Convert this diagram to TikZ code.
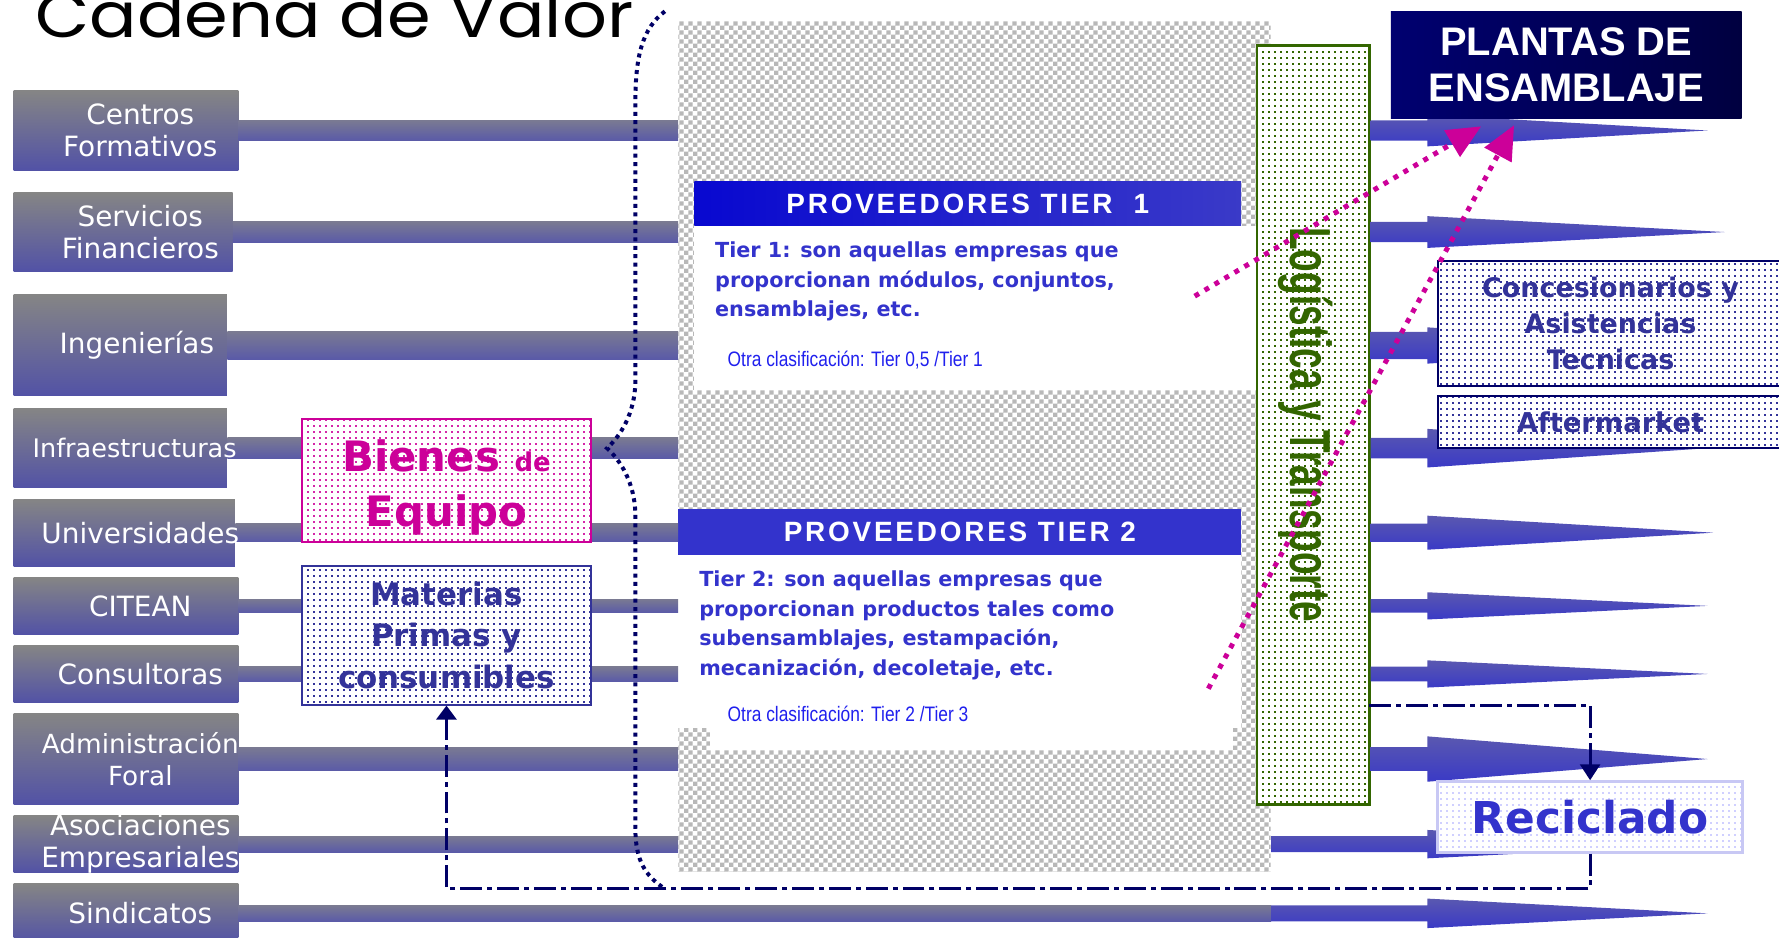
\documentclass[tikz,border=0pt]{standalone}
\usepackage{fontspec}
\usetikzlibrary{calc}
\usetikzlibrary{patterns}
\usetikzlibrary{arrows.meta}

\newfontfamily\fntdv{DejaVu Sans}
\newfontfamily\fntlib{Liberation Sans}
\newfontfamily\fntwide[LetterSpace=10]{Liberation Sans}
\newfontfamily\fntnarrow[FakeStretch=0.83]{Liberation Sans}
\newfontfamily\fntlogi[FakeStretch=0.64]{Liberation Sans}
\newfontfamily\fnttitle[FakeStretch=1.12]{Poppins}

\definecolor{boxtop}{HTML}{858585}
\definecolor{boxbot}{HTML}{5252A6}
\definecolor{bartop}{HTML}{7A7A92}
\definecolor{barbot}{HTML}{5A5AA8}
\definecolor{arrtop}{HTML}{5A58B0}
\definecolor{arrbot}{HTML}{3A3AC6}
\definecolor{tierblue}{HTML}{3333CC}
\definecolor{otrablue}{HTML}{2020EE}
\definecolor{navyc}{HTML}{000066}
\definecolor{magent}{HTML}{CC0099}
\definecolor{logigreen}{HTML}{336600}
\definecolor{peleft}{HTML}{000070}
\definecolor{peright}{HTML}{000040}
\definecolor{tleft}{HTML}{0808D0}
\definecolor{tright}{HTML}{3A3AC8}
\definecolor{matblue}{HTML}{333399}
\definecolor{recline}{HTML}{C8C8F4}
\definecolor{recdots}{HTML}{D0D0FF}

% finer textures than the library ones
\pgfdeclarepatternformonly{finecheck}{\pgfpointorigin}{\pgfqpoint{4.4pt}{4.4pt}}{\pgfqpoint{4.4pt}{4.4pt}}{%
    \pgfpathrectangle{\pgfpointorigin}{\pgfqpoint{2.2pt}{2.2pt}}%
    \pgfpathrectangle{\pgfqpoint{2.2pt}{2.2pt}}{\pgfqpoint{2.2pt}{2.2pt}}%
    \pgfusepath{fill}}
\pgfdeclarepatternformonly{finedots}{\pgfpointorigin}{\pgfqpoint{2.8pt}{2.8pt}}{\pgfqpoint{2.8pt}{2.8pt}}{%
    \pgfpathrectangle{\pgfpointorigin}{\pgfqpoint{1pt}{1pt}}%
    \pgfusepath{fill}}

\begin{document}
\begin{tikzpicture}[x=0.2mm, y=-0.2mm]

    \tikzset{
        lbox/.style={rectangle, inner sep=0, top color=boxtop, bottom color=boxbot},
        ltext/.style={text=white, align=center, inner sep=0, font=\fntdv\fontsize{14}{16}\selectfont},
        feedbar/.style={top color=bartop, bottom color=barbot},
        rarrow/.style={top color=arrtop, bottom color=arrbot},
        dotbox/.style={rectangle, inner sep=0, preaction={fill=white}, pattern=finedots},
        tierhead/.style={rectangle, inner sep=0, text=white, font=\fntwide\bfseries\fontsize{14}{14}\selectfont},
        tiertext/.style={inner sep=0, align=left, text=tierblue, font=\fntdv\bfseries\fontsize{10.4}{14.8}\selectfont},
        othertext/.style={inner sep=0, text=otrablue, font=\fntnarrow\fontsize{10.5}{10.5}\selectfont},
        curlyline/.style={draw=navyc, line width=2pt, dash pattern=on 2pt off 2.2pt},
        recpath/.style={draw=navyc, line width=1.5pt, dash pattern=on 11pt off 2.5pt on 2.5pt off 2.5pt},
        mgarrow/.style={draw=magent, line width=2.5pt, dash pattern=on 2.5pt off 3.3pt, -{Triangle[length=17pt, width=15pt]}}
    }

    \useasboundingbox (0,0) rectangle (1568,826);
    \clip (0,0) rectangle (1568,826);

    % left boxes
    \node[lbox, minimum width=39.6mm, minimum height=14mm] (CF) at (111,115) {};
    \node[lbox, minimum width=38.6mm, minimum height=13.8mm] (SF) at (108.5,204.5) {};
    \node[lbox, minimum width=37.6mm, minimum height=17.8mm] (IN) at (106,304.5) {};
    \node[lbox, minimum width=37.6mm, minimum height=14mm] (IF) at (106,395) {};
    \node[lbox, minimum width=39mm, minimum height=11.8mm] (UN) at (109.5,469.5) {};
    \node[lbox, minimum width=39.6mm, minimum height=10mm] (CI) at (111,534) {};
    \node[lbox, minimum width=39.6mm, minimum height=10mm] (CO) at (111,594) {};
    \node[lbox, minimum width=39.6mm, minimum height=16mm] (AF) at (111,669) {};
    \node[lbox, minimum width=39.6mm, minimum height=10mm] (AE) at (111,744) {};
    \node[lbox, minimum width=39.6mm, minimum height=10.4mm] (SI) at (111,805) {};

    % suppliers zone
    \node[rectangle, inner sep=0, preaction={fill=white}, pattern=finecheck, pattern color=black!28,
        minimum width=104.4mm, minimum height=149.8mm] (Z) at (859,393.5) {};
    \fill[white] (612,199) rectangle (1107,344);
    \fill[white] (598,489) rectangle (1094,642);
    \fill[white] (626,640) rectangle (1087,661);
    \node[tierhead, left color=tleft, right color=tright, minimum width=96.4mm, minimum height=7.8mm] (T1) at (853,179.5) {PROVEEDORES TIER~~1};
    \node[tierhead, fill=tierblue, minimum width=99.2mm, minimum height=8mm] (T2) at (846,469) {PROVEEDORES TIER 2};
    \node[tiertext, anchor=north west] (T1t) at (630,213) {Tier 1: son aquellas empresas que\\proporcionan módulos, conjuntos,\\ensamblajes, etc.};
    \node[othertext, anchor=base west] (T1o) at (641,323) {Otra clasificación: Tier 0,5 /Tier 1};
    \node[tiertext, anchor=north west] (T2t) at (616,503) {Tier 2: son aquellas empresas que\\proporcionan productos tales como\\subensamblajes, estampación,\\mecanización, decoletaje, etc.};
    \node[othertext, anchor=base west] (T2o) at (641,636) {Otra clasificación: Tier 2 /Tier 3};

    % logistics
    \node[dotbox, draw=logigreen, line width=1.2pt, pattern color=logigreen,
        minimum width=19.8mm, minimum height=133.8mm] (LT) at (1157.5,374.5) {};
    \node[anchor=base west, rotate=-90, inner sep=0, text=logigreen,
        font=\fntlogi\bfseries\fontsize{29}{29}\selectfont] (LTt) at (1137,200) {Logística y Transporte};

    % bars into the zone
    \path[feedbar] ($(CF.east)+(0,-9)$) rectangle ($(Z.west |- CF)+(0,9)$);
    \path[feedbar] ($(SF.east)+(0,-9)$) rectangle ($(Z.west |- SF)+(0,9)$);
    \path[feedbar] ($(IN.east)+(0,-12)$) rectangle ($(Z.west |- IN)+(0,12)$);
    \path[feedbar] ($(IF.east)+(0,-9)$) rectangle ($(Z.west |- IF)+(0,9)$);
    \path[feedbar] ($(UN.east)+(0,-8)$) rectangle ($(Z.west |- UN)+(0,8)$);
    \path[feedbar] ($(CI.east)+(0,-6)$) rectangle ($(Z.west |- CI)+(0,6)$);
    \path[feedbar] ($(CO.east)+(0,-6.5)$) rectangle ($(Z.west |- CO)+(0,6.5)$);
    \path[feedbar] ($(AF.east)+(0,-10.5)$) rectangle ($(Z.west |- AF)+(0,10.5)$);
    \path[feedbar] ($(AE.east)+(0,-7)$) rectangle ($(Z.west |- AE)+(0,7)$);
    \path[feedbar] ($(SI.east)+(0,-7)$) rectangle ($(Z.east |- SI)+(0,7)$);

    % arrows out of the zone
    \coordinate (HX) at (1258,0);
    \coordinate (TX) at (1505,0);
    \path[rarrow] ($(LT.east |- CF)+(0,-9)$) -- ($(HX |- CF)+(0,-9)$) -- ($(HX |- CF)+(0,-14)$) -- (TX |- CF)
        -- ($(HX |- CF)+(0,14)$) -- ($(HX |- CF)+(0,9)$) -- ($(LT.east |- CF)+(0,9)$) -- cycle;
    \path[rarrow] ($(LT.east |- SF)+(0,-9)$) -- ($(HX |- SF)+(0,-9)$) -- ($(HX |- SF)+(0,-14)$) -- ($(TX |- SF)+(15,0)$)
        -- ($(HX |- SF)+(0,14)$) -- ($(HX |- SF)+(0,9)$) -- ($(LT.east |- SF)+(0,9)$) -- cycle;
    \path[rarrow] ($(LT.east |- IN)+(0,-12)$) -- ($(HX |- IN)+(0,-12)$) -- ($(HX |- IN)+(0,-16)$) -- (TX |- IN)
        -- ($(HX |- IN)+(0,16)$) -- ($(HX |- IN)+(0,12)$) -- ($(LT.east |- IN)+(0,12)$) -- cycle;
    \path[rarrow] ($(LT.east |- IF)+(0,-9)$) -- ($(HX |- IF)+(0,-9)$) -- ($(HX |- IF)+(0,-17)$) -- (TX |- IF)
        -- ($(HX |- IF)+(0,17)$) -- ($(HX |- IF)+(0,9)$) -- ($(LT.east |- IF)+(0,9)$) -- cycle;
    \path[rarrow] ($(LT.east |- UN)+(0,-8)$) -- ($(HX |- UN)+(0,-8)$) -- ($(HX |- UN)+(0,-15)$) -- ($(TX |- UN)+(5,0)$)
        -- ($(HX |- UN)+(0,15)$) -- ($(HX |- UN)+(0,8)$) -- ($(LT.east |- UN)+(0,8)$) -- cycle;
    \path[rarrow] ($(LT.east |- CI)+(0,-6)$) -- ($(HX |- CI)+(0,-6)$) -- ($(HX |- CI)+(0,-12)$) -- (TX |- CI)
        -- ($(HX |- CI)+(0,12)$) -- ($(HX |- CI)+(0,6)$) -- ($(LT.east |- CI)+(0,6)$) -- cycle;
    \path[rarrow] ($(LT.east |- CO)+(0,-6.5)$) -- ($(HX |- CO)+(0,-6.5)$) -- ($(HX |- CO)+(0,-12)$) -- (TX |- CO)
        -- ($(HX |- CO)+(0,12)$) -- ($(HX |- CO)+(0,6.5)$) -- ($(LT.east |- CO)+(0,6.5)$) -- cycle;
    \path[rarrow] ($(LT.east |- AF)+(0,-10.5)$) -- ($(HX |- AF)+(0,-10.5)$) -- ($(HX |- AF)+(0,-20)$) -- (TX |- AF)
        -- ($(HX |- AF)+(0,20)$) -- ($(HX |- AF)+(0,10.5)$) -- ($(LT.east |- AF)+(0,10.5)$) -- cycle;
    \path[rarrow] ($(Z.east |- AE)+(0,-7)$) -- ($(HX |- AE)+(0,-7)$) -- ($(HX |- AE)+(0,-12.5)$) -- (TX |- AE)
        -- ($(HX |- AE)+(0,12.5)$) -- ($(HX |- AE)+(0,7)$) -- ($(Z.east |- AE)+(0,7)$) -- cycle;
    \path[rarrow] ($(Z.east |- SI)+(0,-7)$) -- ($(HX |- SI)+(0,-7)$) -- ($(HX |- SI)+(0,-13)$) -- (TX |- SI)
        -- ($(HX |- SI)+(0,13)$) -- ($(HX |- SI)+(0,7)$) -- ($(Z.east |- SI)+(0,7)$) -- cycle;

    % left labels
    \node[ltext] (CFt) at ($(CF.west)+(112,0)$) {Centros\\Formativos};
    \node[ltext] (SFt) at ($(SF.west)+(112,0)$) {Servicios\\Financieros};
    \node[ltext] (INt) at ($(IN.west)+(109,0)$) {Ingenierías};
    \node[ltext, font=\fntdv\fontsize{12.8}{16}\selectfont] (IFt) at ($(IF.west)+(107,0)$) {Infraestructuras};
    \node[ltext] (UNt) at ($(UN.west)+(112,0)$) {Universidades};
    \node[ltext] (CIt) at ($(CI.west)+(112,0)$) {CITEAN};
    \node[ltext] (COt) at ($(CO.west)+(112,0)$) {Consultoras};
    \node[ltext, font=\fntdv\fontsize{13.2}{16}\selectfont] (AFt) at ($(AF.west)+(112,0)$) {Administración\\Foral};
    \node[ltext] (AEt) at ($(AE.west)+(112,0)$) {Asociaciones\\Empresariales};
    \node[ltext] (SIt) at ($(SI.west)+(112,0)$) {Sindicatos};

    % goods boxes
    \node[dotbox, draw=magent, line width=1pt, pattern color=magent!85, minimum width=51mm, minimum height=21.8mm] (BE) at (393.5,423.5) {};
    \node[inner sep=0, text=magent, align=center, font=\fntdv\bfseries\fontsize{21}{27.3}\selectfont] (BEt) at ($(BE)+(0,6)$)
        {Bienes {\fontsize{13}{13}\selectfont de}\\Equipo};
    \node[dotbox, draw=matblue, line width=1pt, pattern color=matblue, minimum width=51mm, minimum height=24.4mm,
        text=matblue, align=center, font=\fntdv\bfseries\fontsize{15.5}{21}\selectfont] (MP) at (393.5,560)
        {Materias\\Primas y\\consumibles};

    % right side
    \node[rectangle, inner sep=0, left color=peleft, right color=peright, minimum width=61.8mm, minimum height=18.8mm,
        text=white, align=center, font=\fntlib\bfseries\fontsize{20}{22.8}\selectfont] (PE) at (1380.5,57) {PLANTAS DE\\ENSAMBLAJE};
    \node[dotbox, draw=navyc, line width=1pt, pattern color=matblue, minimum width=61mm, minimum height=22mm,
        text=matblue, align=center, font=\fntdv\bfseries\fontsize{13.5}{18.2}\selectfont] (CA) at (1419.5,285)
        {Concesionarios y\\Asistencias\\Tecnicas};
    \node[dotbox, draw=navyc, line width=1pt, pattern color=matblue, minimum width=61mm, minimum height=9.2mm,
        text=matblue, font=\fntdv\bfseries\fontsize{13.7}{13.7}\selectfont] (AM) at (1419.5,372) {Aftermarket};
    \node[dotbox, draw=recline, line width=1.5pt, pattern color=recdots, minimum width=53.8mm, minimum height=12.4mm,
        text=tierblue, font=\fntdv\bfseries\fontsize{22}{22}\selectfont] (RE) at (1401.5,720) {Reciclado};

    % brace of the value chain
    \draw[curlyline] (586,10) .. controls (566,25) and (560,50) .. (560,90) -- (560,335)
        .. controls (560,365) and (546,385) .. (535,395) .. controls (546,405) and (560,425) .. (560,455)
        -- (560,730) .. controls (560,760) and (570,772) .. (584,782);

    % recycling loop
    \coordinate (RS) at (1207,622);
    \draw[recpath, -{Triangle[length=8pt, width=10pt]}] (RS) -| (RE.north);
    \draw[recpath, -{Triangle[length=7pt, width=10pt]}] (RE.south) -- ++(0,31) -| (MP.south);

    % tiers to the plants
    \coordinate (M1) at (1053,261);
    \coordinate (M2) at (1065,607);
    \draw[mgarrow] (M1) -- ($(PE.south)+(-75,7)$);
    \draw[mgarrow] (M2) -- ($(PE.south)+(-46,6)$);

    \node[anchor=base west, inner sep=0, font=\fnttitle\fontsize{31.5}{31.5}\selectfont] (TT) at (31,33) {Cadena de Valor};

\end{tikzpicture}
\end{document}
